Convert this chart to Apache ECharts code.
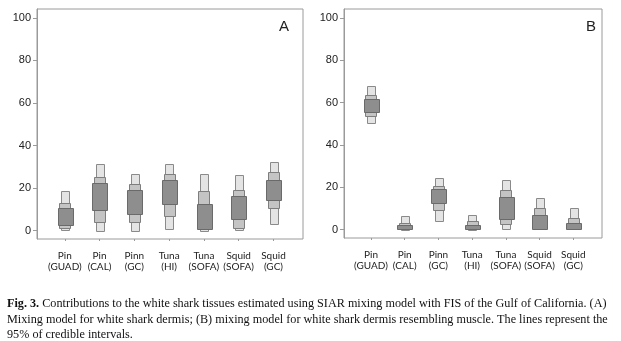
<!DOCTYPE html>
<html><head><meta charset="utf-8">
<script src="https://cdn.jsdelivr.net/npm/echarts@6/dist/echarts.min.js"></script>
<style>html,body{margin:0;padding:0;background:#fff}#c{width:621px;height:341px}</style>
</head><body><div id="c"></div>
<script>
const categories = ['Pin\n(GUAD)', 'Pin\n(CAL)', 'Pinn\n(GC)', 'Tuna\n(HI)', 'Tuna\n(SOFA)', 'Squid\n(SOFA)', 'Squid\n(GC)'];
const positions = [1, 2, 3, 4, 5, 6, 7];
const yTicks = [0, 20, 40, 60, 80, 100];
// [low, high] credible intervals
const panelA95 = [[0, 18.5], [0, 31.5], [0, 26.7], [0.6, 31.4], [0, 26.7], [0, 26], [3.1, 32.4]];
const panelA75 = [[1.1, 13], [3.9, 25], [3.7, 21.7], [7, 26.7], [0.3, 18.4], [1.5, 19.2], [10.4, 27.4]];
const panelA50 = [[2.4, 10.6], [10, 22.5], [7.5, 19], [12.6, 23.8], [0.8, 12.5], [5.1, 16.1], [14, 23.6]];
const panelB95 = [[50.1, 67.7], [0, 6.5], [4.1, 24.4], [0, 7.1], [0.2, 23.3], [0, 14.8], [0, 10]];
const panelB75 = [[54, 63.8], [0.1, 3.1], [9.3, 20.6], [0.2, 3.8], [2.3, 18.6], [0.3, 10.3], [0.2, 5.3]];
const panelB50 = [[55.9, 61.9], [0.2, 2], [12.5, 19.1], [0.4, 2.3], [5.4, 15.6], [0.5, 7.1], [0.3, 2.9]];
const panelLetters = ['A', 'B'];
const captionLines = [
  ['Fig. 3.', ' Contributions to the white shark tissues estimated using SIAR mixing model with FIS of the Gulf of California. (A)'],
  ['', 'Mixing model for white shark dermis; (B) mixing model for white shark dermis resembling muscle. The lines represent the'],
  ['', '95% of credible intervals.']
];

const axisFont = 'Lato, "Liberation Sans", sans-serif';
const numFont = '"Liberation Sans", Arial, sans-serif';
const serifFont = '"Liberation Serif", "Times New Roman", serif';
const frame = '#9a9a9a';

function build(a95, a75, a50) {
  return positions.map((p, i) => [p, a95[i][0], a95[i][1], a75[i][0], a75[i][1], a50[i][0], a50[i][1]]);
}

const layers = [
  {lo: 1, hi: 2, w: 7.5, fill: '#e4e4e4', stroke: '#8a8a8a'},
  {lo: 3, hi: 4, w: 11, fill: '#c4c4c4', stroke: '#7e7e7e'},
  {lo: 5, hi: 6, w: 14.5, fill: '#8e8e8e', stroke: '#6a6a6a'}
];

function renderItem(params, api) {
  const x = api.value(0);
  const children = layers.map(L => {
    const t = api.coord([x, api.value(L.hi)]);
    const b = api.coord([x, api.value(L.lo)]);
    return {
      type: 'rect',
      shape: {x: Math.round(t[0] - L.w / 2) + 0.5, y: Math.round(t[1]) + 0.5, width: Math.round(L.w), height: Math.max(1, Math.round(b[1] - t[1]))},
      style: {fill: L.fill, stroke: L.stroke, lineWidth: 1}
    };
  });
  return {type: 'group', children};
}

const grids = [
  {left: 37, top: 9, width: 266, height: 230},
  {left: 344, top: 9, width: 258, height: 229}
];

function xAxis(g) {
  return {
    gridIndex: g, type: 'value', min: 0.2, max: 7.85,
    splitLine: {show: false},
    axisLine: {show: false, onZero: false},
    axisTick: {show: true, customValues: positions, length: 2, lineStyle: {color: frame}},
    axisLabel: {
      customValues: positions, margin: 12,
      formatter: v => categories[Math.round(v) - 1],
      fontFamily: axisFont, fontSize: 10, color: '#222', lineHeight: 10.5
    }
  };
}
function yAxis(g) {
  return {
    gridIndex: g, type: 'value', min: -4, max: 104.2,
    splitLine: {show: false},
    axisLine: {show: true, onZero: false, lineStyle: {color: frame}},
    axisTick: {show: true, customValues: yTicks, length: 4, lineStyle: {color: frame}},
    axisLabel: {customValues: yTicks, margin: 6, fontFamily: numFont, fontSize: 11, color: '#222'}
  };
}

const chart = echarts.init(document.getElementById('c'), null, {renderer: 'canvas'});
chart.setOption({
  animation: false,
  backgroundColor: '#fff',
  title: [
    {text: panelLetters[0], left: 279, top: 19, padding: 0, textStyle: {fontSize: 15, fontWeight: 'normal', color: '#222', fontFamily: numFont}},
    {text: panelLetters[1], left: 586, top: 19, padding: 0, textStyle: {fontSize: 15, fontWeight: 'normal', color: '#222', fontFamily: numFont}}
  ],
  grid: grids.map(g => Object.assign({show: true, borderColor: frame, borderWidth: 1, backgroundColor: 'transparent'}, g)),
  xAxis: [xAxis(0), xAxis(1)],
  yAxis: [yAxis(0), yAxis(1)],
  series: [
    {type: 'custom', xAxisIndex: 0, yAxisIndex: 0, renderItem, data: build(panelA95, panelA75, panelA50), encode: {x: 0, y: [1, 2]}},
    {type: 'custom', xAxisIndex: 1, yAxisIndex: 1, renderItem, data: build(panelB95, panelB75, panelB50), encode: {x: 0, y: [1, 2]}}
  ],
  graphic: captionLines.map((ln, i) => ({
    type: 'text', left: 7, top: 298 + i * 15.5,
    style: {
      text: (ln[0] ? '{b|' + ln[0] + '}' : '') + '{n|' + ln[1] + '}',
      rich: {
        b: {fontFamily: serifFont, fontSize: 12.2, fontWeight: 'bold', fill: '#111'},
        n: {fontFamily: serifFont, fontSize: 12.2, fill: '#111'}
      }
    }
  }))
});
</script></body></html>
